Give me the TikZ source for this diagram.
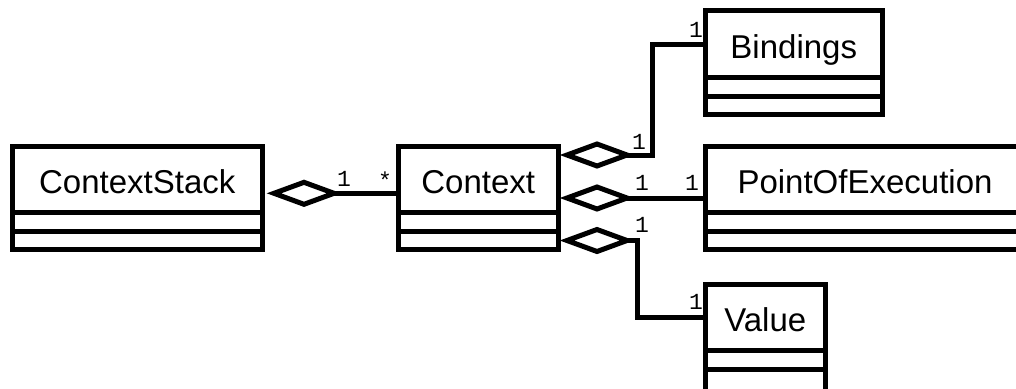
\documentclass[tikz,border=0pt]{standalone}
\usepackage{fontspec}
\setmainfont{Liberation Sans}
\newfontfamily\monof{Liberation Mono}
\begin{document}
\begin{tikzpicture}[x=1pt,y=-1pt,
  cls/.style={draw=black, line width=5pt, fill=white, inner sep=0pt, outer sep=2.5pt,
    minimum height=66pt, text height=30pt, text depth=2pt,
    font=\fontsize{33}{39}\selectfont},
  comp/.style={draw=black, line width=5pt, fill=white, inner sep=0pt, outer sep=0pt, anchor=north},
  conn/.style={draw=black, line width=5pt},
  mult/.style={inner sep=0pt, font=\monof\fontsize{23}{26}\selectfont},
  aggd/.pic={
    \draw[line width=5pt, fill=white, line join=miter, miter limit=12]
      (0pt,0pt) -- (30pt,11pt) -- (60pt,0pt) -- (30pt,-11pt) -- cycle;
    \coordinate (-tip) at (60pt,0pt);
  }]
\useasboundingbox (0,0) rectangle (1016,388);
\fill[white] (0,0) rectangle (1016,388);
\clip (0,0) rectangle (1016,388);

% ContextStack
\node[cls, minimum width=249.5pt] (cs) at (137.25,179.5) {ContextStack};
\node[comp, minimum width=249.5pt, minimum height=19pt] (cs2) at (137.25,212.5) {};
\node[comp, minimum width=249.5pt, minimum height=18pt] (cs3) at (137.25,231.5) {};

% Context
\node[cls, minimum width=159.5pt] (ctx) at (478.25,179.5) {Context};
\node[comp, minimum width=159.5pt, minimum height=19pt] (ctx2) at (478.25,212.5) {};
\node[comp, minimum width=159.5pt, minimum height=18pt] (ctx3) at (478.25,231.5) {};

% Bindings
\node[cls, minimum width=177.5pt, minimum height=67pt] (bind) at (793.75,44) {Bindings};
\node[comp, minimum width=177.5pt, minimum height=19pt] (bind2) at (793.75,77.5) {};
\node[comp, minimum width=177.5pt, minimum height=18pt] (bind3) at (793.75,96.5) {};

% PointOfExecution
\node[cls, minimum width=320pt] (poe) at (865,179.5) {PointOfExecution};
\node[comp, minimum width=320pt, minimum height=19pt] (poe2) at (865,212.5) {};
\node[comp, minimum width=320pt, minimum height=18pt] (poe3) at (865,231.5) {};

% Value
\node[cls, minimum width=120.5pt] (val) at (765.25,317.5) {Value};
\node[comp, minimum width=120.5pt, minimum height=19pt] (val2) at (765.25,350.5) {};
\node[comp, minimum width=120.5pt, minimum height=24pt] (val3) at (765.25,369.5) {};

% ContextStack -- Context
\pic (d1) at ([xshift=9.5pt, yshift=-13.8pt]cs.east) {aggd};
\draw[conn] (d1-tip) -- (d1-tip -| ctx.west);
\node[mult] (m1) at (344,178.5) {1};
\node[mult] (m2) at (385,180) {*};

% Context -- Bindings
\pic (d2) at ([xshift=6.5pt, yshift=24.5pt]ctx.east) {aggd};
\draw[conn] (d2-tip) -- ++(25.5,0) |- (bind.west);
\node[mult] (m3) at (639,142) {1};
\node[mult] (m4) at (696,30) {1};

% Context -- PointOfExecution
\pic (d3) at ([xshift=6.5pt, yshift=-18.5pt]ctx.east) {aggd};
\draw[conn] (d3-tip) -- (d3-tip -| poe.west);
\node[mult] (m5) at (642,183) {1};
\node[mult] (m6) at (692,183) {1};

% Context -- Value
\pic (d4) at ([xshift=6.5pt, yshift=-61pt]ctx.east) {aggd};
\draw[conn] (d4-tip) -- ++(10.5,0) |- (val.west);
\node[mult] (m7) at (642,225) {1};
\node[mult] (m8) at (696,302) {1};
\end{tikzpicture}
\end{document}
